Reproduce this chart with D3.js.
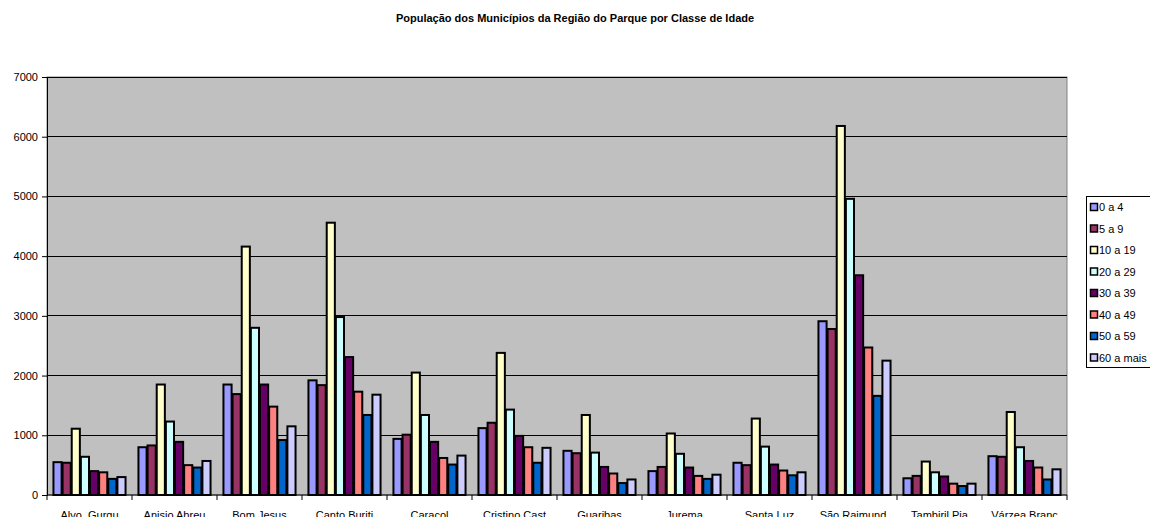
<!DOCTYPE html>
<html><head><meta charset="utf-8">
<script src="https://cdn.jsdelivr.net/npm/d3@7"></script>
<style>
body{margin:0;background:#fff;}
svg{display:block;font-family:"Liberation Sans",Arial,sans-serif;}
</style></head>
<body><svg id="c" width="1150" height="517"></svg>
<script>
const categories = ["Alvo. Gurgu","Anisio Abreu","Bom Jesus","Canto Buriti","Caracol","Cristino Cast","Guaribas","Jurema","Santa Luz","São Raimund.","Tambiril Pia","Várzea Branc"];
const seriesNames = ["0 a 4","5 a 9","10 a 19","20 a 29","30 a 39","40 a 49","50 a 59","60 a mais"];
const s0a4   = [550, 800, 1850, 1920, 940, 1120, 740, 400, 540, 2910, 280, 650];
const s5a9   = [540, 830, 1690, 1840, 1010, 1210, 700, 470, 500, 2780, 320, 640];
const s10a19 = [1110, 1850, 4160, 4560, 2050, 2380, 1340, 1030, 1280, 6180, 560, 1390];
const s20a29 = [640, 1230, 2800, 2980, 1340, 1430, 710, 690, 810, 4960, 380, 800];
const s30a39 = [400, 890, 1850, 2310, 890, 990, 470, 460, 510, 3680, 310, 570];
const s40a49 = [380, 500, 1480, 1730, 620, 800, 360, 320, 410, 2470, 190, 460];
const s50a59 = [270, 460, 920, 1340, 510, 540, 200, 270, 330, 1660, 150, 260];
const s60    = [300, 570, 1150, 1680, 660, 790, 260, 340, 380, 2250, 190, 430];
const yTicks = [0,1000,2000,3000,4000,5000,6000,7000];
const colors = ["#9999FF","#993366","#FFFFCC","#CCFFFF","#660066","#FF8080","#0066CC","#CCCCFF"];
const series = [s0a4,s5a9,s10a19,s20a29,s30a39,s40a49,s50a59,s60];

const svg = d3.select("#c");
const L = 47, R = 1067, T = 77, B = 495;

svg.append("text").attr("x",575).attr("y",22).attr("text-anchor","middle")
  .attr("font-size",11).attr("font-weight","bold").text("População dos Municípios da Região do Parque por Classe de Idade");

const x = d3.scaleBand().domain(categories).range([L,R]).paddingInner(0.14).paddingOuter(0.07);
const xb = d3.scaleBand().domain(d3.range(8)).range([0,x.bandwidth()]);
const y = d3.scaleLinear().domain([0,7000]).range([B,T]);

svg.append("rect").attr("x",L).attr("y",T).attr("width",R-L).attr("height",B-T)
  .attr("fill","#C0C0C0").attr("stroke","#808080").attr("stroke-width",1);

svg.append("g").selectAll("line").data(yTicks.slice(1)).join("line")
  .attr("x1",L).attr("x2",R).attr("y1",d=>y(d)).attr("y2",d=>y(d))
  .attr("stroke","#000").attr("stroke-width",1).attr("shape-rendering","crispEdges");

const g = svg.append("g");
series.forEach((s,i)=>{
  g.append("g").selectAll("rect").data(s).join("rect")
    .attr("x",(d,j)=>x(categories[j])+xb(i)+0.5)
    .attr("y",d=>y(d))
    .attr("width",xb.bandwidth()-1)
    .attr("height",d=>B-y(d))
    .attr("fill",colors[i]).attr("stroke","#000").attr("stroke-width",2);
});

// y axis
const ya = d3.axisLeft(y).tickValues(yTicks).tickSize(5).tickPadding(4).tickFormat(d3.format("d"));
const yg = svg.append("g").attr("transform",`translate(${L},0)`).call(ya);
yg.select(".domain").attr("stroke","#000");
yg.selectAll("text").attr("font-size",11).attr("font-family","Liberation Sans, Arial, sans-serif").attr("fill","#000");

// x axis
const step = (R-L)/categories.length;
const bounds = d3.range(categories.length+1).map(i=>L+i*step);
svg.append("line").attr("x1",L).attr("x2",R).attr("y1",B).attr("y2",B).attr("stroke","#000");
svg.append("g").selectAll("line").data(bounds).join("line")
  .attr("x1",d=>d).attr("x2",d=>d).attr("y1",B).attr("y2",B+5).attr("stroke","#000");
svg.append("g").selectAll("text").data(categories).join("text")
  .attr("x",d=>x(d)+x.bandwidth()/2).attr("y",519).attr("text-anchor","middle")
  .attr("font-size",11).text(d=>d);

// legend
const lg = svg.append("g");
lg.append("rect").attr("x",1086.5).attr("y",196.5).attr("width",70).attr("height",171)
  .attr("fill","#fff").attr("stroke","#000");
seriesNames.forEach((n,i)=>{
  const cy = 207 + i*21.5;
  lg.append("rect").attr("x",1090.5).attr("y",cy-3.5).attr("width",7).attr("height",7)
    .attr("fill",colors[i]).attr("stroke","#000").attr("stroke-width",1.5);
  lg.append("text").attr("x",1099).attr("y",cy+4).attr("font-size",11).text(n);
});
</script></body></html>
